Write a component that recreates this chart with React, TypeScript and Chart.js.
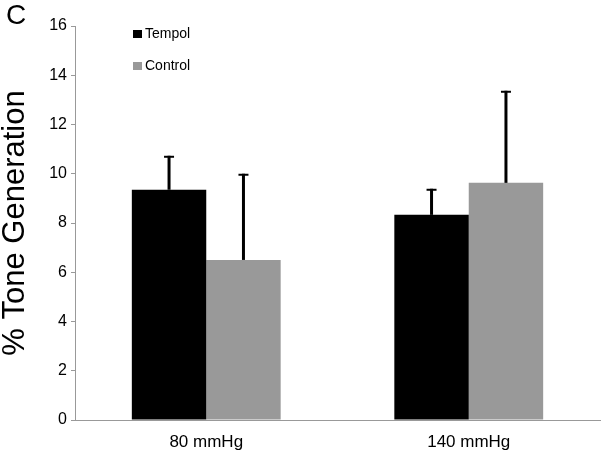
import React, { useEffect, useRef } from "react";
import { Chart, registerables } from "chart.js";

Chart.register(...registerables);

const categories = ["80 mmHg", "140 mmHg"];
const tempolValues = [9.35, 8.33];
const tempolErrors = [1.38, 1.06];
const controlValues = [6.5, 9.63];
const controlErrors = [3.5, 3.74];
const yTickMin = 0;
const yTickMax = 16;
const yTickStep = 2;
const panelLabel = "C";
const yTitle = "% Tone Generation";

const errorBarPlugin = {
  id: "errorBars",
  afterDatasetsDraw(chart: any) {
    const ctx = chart.ctx;
    const yScale = chart.scales.y;
    chart.data.datasets.forEach((ds: any, di: number) => {
      const meta = chart.getDatasetMeta(di);
      meta.data.forEach((bar: any, i: number) => {
        const v = ds.data[i];
        const e = ds.errors[i];
        const yTop = yScale.getPixelForValue(v + e);
        const yBar = yScale.getPixelForValue(v);
        ctx.save();
        ctx.strokeStyle = "#000";
        ctx.lineWidth = 3;
        ctx.beginPath();
        ctx.moveTo(bar.x, yBar);
        ctx.lineTo(bar.x, yTop);
        ctx.stroke();
        ctx.lineWidth = 2;
        ctx.beginPath();
        ctx.moveTo(bar.x - 5, yTop + 1);
        ctx.lineTo(bar.x + 5, yTop + 1);
        ctx.stroke();
        ctx.restore();
      });
    });
  },
};

const decorPlugin = {
  id: "decor",
  afterDraw(chart: any) {
    const ctx = chart.ctx;
    ctx.save();
    ctx.fillStyle = "#000";
    ctx.font = "28px 'Liberation Sans', Arial, sans-serif";
    ctx.textBaseline = "alphabetic";
    ctx.textAlign = "left";
    ctx.fillText(panelLabel, 6, 24);
    const items = chart.data.datasets.map((d: any) => ({ label: d.label, color: d.backgroundColor }));
    const ys = [34, 66];
    ctx.font = "14px 'Liberation Sans', Arial, sans-serif";
    ctx.textBaseline = "middle";
    items.forEach((it: any, i: number) => {
      ctx.fillStyle = it.color;
      ctx.fillRect(133, ys[i] - 4, 9, 8);
      ctx.fillStyle = "#000";
      ctx.fillText(it.label, 145, ys[i]);
    });
    ctx.restore();
  },
};

export default function App() {
  const ref = useRef<HTMLCanvasElement | null>(null);
  useEffect(() => {
    if (!ref.current) return;
    const chart = new Chart(ref.current, {
      type: "bar",
      data: {
        labels: categories,
        datasets: [
          {
            label: "Tempol",
            data: tempolValues,
            errors: tempolErrors,
            backgroundColor: "#000000",
            barPercentage: 1,
            categoryPercentage: 0.567,
          } as any,
          {
            label: "Control",
            data: controlValues,
            errors: controlErrors,
            backgroundColor: "#999999",
            barPercentage: 1,
            categoryPercentage: 0.567,
          } as any,
        ],
      },
      options: {
        animation: false,
        responsive: false,
        maintainAspectRatio: false,
        layout: { padding: { top: 26, right: 1, left: 0, bottom: 0 } },
        plugins: { legend: { display: false }, tooltip: { enabled: false } },
        scales: {
          x: {
            grid: {
              display: true,
              drawOnChartArea: false,
              tickLength: 4,
              tickColor: (c: any) => (c.index === 2 ? "#999999" : "rgba(0,0,0,0)"),
              color: "#999999",
            },
            border: { color: "#999999", width: 1 },
            ticks: {
              color: "#000",
              font: { family: "'Liberation Sans', Arial, sans-serif", size: 17 },
              padding: 8,
            },
            afterFit: (s: any) => {
              s.height = 33;
            },
          },
          y: {
            min: yTickMin,
            max: yTickMax,
            grid: {
              display: true,
              drawOnChartArea: false,
              tickLength: 4,
              color: "#999999",
            },
            border: { color: "#999999", width: 1 },
            ticks: {
              stepSize: yTickStep,
              color: "#000",
              font: { family: "'Liberation Sans', Arial, sans-serif", size: 16 },
              padding: 4,
            },
            title: {
              display: true,
              text: yTitle,
              color: "#000",
              font: { family: "'Liberation Sans', Arial, sans-serif", size: 31, lineHeight: 1 },
              padding: { top: 0, bottom: 0 },
            },
            afterFit: (s: any) => {
              s.width = 75;
            },
          },
        },
      },
      plugins: [errorBarPlugin, decorPlugin],
    });
    return () => chart.destroy();
  }, []);
  return (
    <div style={{ position: "fixed", left: 0, top: 0, width: 601, height: 453, background: "#fff" }}>
      <canvas ref={ref} width={601} height={453} style={{ width: 601, height: 453 }} />
    </div>
  );
}
